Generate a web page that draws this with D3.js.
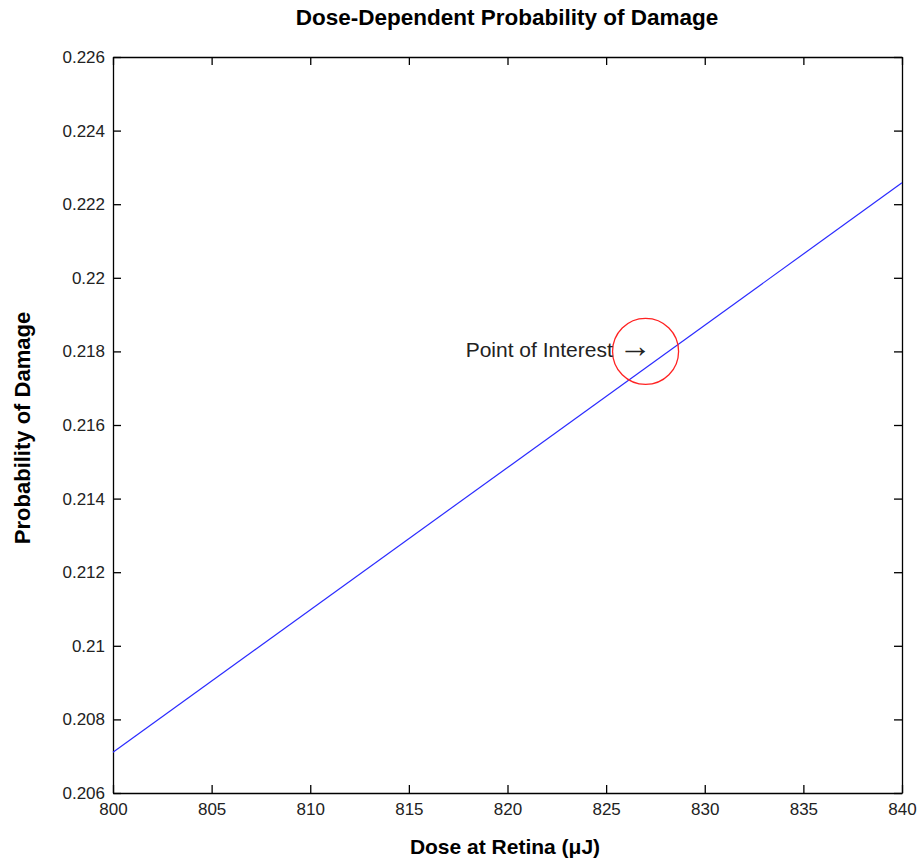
<!DOCTYPE html>
<html>
  <head>
    <meta charset="utf-8">
    <title>Dose-Dependent Probability of Damage</title>
    <style>
      body { margin: 0; background: #fff; }
      text { font-family: "Liberation Sans", Arial, sans-serif; }
    </style>
  </head>
  <body>
    <svg width="921" height="862"></svg>

    <script src="https://d3js.org/d3.v7.min.js"></script>
    <script>

      // line end points
      var doses = [800, 840];
      var probs = [0.20711, 0.22258];

      var xTicks = [800, 805, 810, 815, 820, 825, 830, 835, 840];
      var yTicks = [0.206, 0.208, 0.21, 0.212, 0.214, 0.216, 0.218, 0.22, 0.222, 0.224, 0.226];

      var poi = { dose: 827, prob: 0.218, label: "Point of Interest " };

      var svg = d3.select("svg"),
        margin = { top: 57, right: 19, bottom: 69, left: 113 },
        width = +svg.attr("width"),
        height = +svg.attr("height");

      var x = d3.scaleLinear()
        .domain([800, 840])
        .range([margin.left, width - margin.right]);

      var y = d3.scaleLinear()
        .domain([0.206, 0.226])
        .range([height - margin.bottom, margin.top]);

      var tick = 8;

      // ticks on all four sides, pointing inwards
      svg.append("g")
        .attr("transform", "translate(0," + y.range()[0] + ")")
        .call(d3.axisBottom(x).tickValues(xTicks).tickSizeInner(-tick).tickSizeOuter(0).tickPadding(10))
        .call(styleAxis);

      svg.append("g")
        .attr("transform", "translate(0," + y.range()[1] + ")")
        .call(d3.axisTop(x).tickValues(xTicks).tickSizeInner(-tick).tickSizeOuter(0).tickFormat(""))
        .call(styleAxis);

      svg.append("g")
        .attr("transform", "translate(" + x.range()[0] + ",0)")
        .call(d3.axisLeft(y).tickValues(yTicks).tickSizeInner(-tick).tickSizeOuter(0).tickPadding(8)
          .tickFormat(function (d) { return d3.format("")(+d.toFixed(3)); }))
        .call(styleAxis);

      svg.append("g")
        .attr("transform", "translate(" + x.range()[1] + ",0)")
        .call(d3.axisRight(y).tickValues(yTicks).tickSizeInner(-tick).tickSizeOuter(0).tickFormat(""))
        .call(styleAxis);

      function styleAxis(g) {
        g.select(".domain").attr("stroke", "#000").attr("stroke-width", 1.3);
        g.selectAll(".tick line").attr("stroke", "#000").attr("stroke-width", 1.3);
        g.selectAll(".tick text")
          .attr("fill", "#222")
          .style("font-size", "17px")
          .style("font-family", "\"Liberation Sans\", Arial, sans-serif");
      }

      var line = d3.line()
        .x(function (d, i) { return x(doses[i]); })
        .y(function (d) { return y(d); });

      svg.append("path")
        .datum(probs)
        .attr("fill", "none")
        .attr("stroke", "#2a2aff")
        .attr("stroke-width", 1.2)
        .attr("d", line);

      svg.append("circle")
        .attr("cx", x(poi.dose))
        .attr("cy", y(poi.prob))
        .attr("r", 33)
        .attr("fill", "none")
        .attr("stroke", "#ff2222")
        .attr("stroke-width", 1.3);

      var label = svg.append("text")
        .attr("x", x(poi.dose) + 6)
        .attr("y", y(poi.prob) + 6)
        .attr("text-anchor", "end")
        .attr("fill", "#222")
        .style("font-size", "21px")
        .text(poi.label);

      label.append("tspan")
        .style("font-family", "\"Liberation Sans\", sans-serif")
        .style("font-size", "33px")
        .text("\u2192");

      svg.append("text")
        .attr("x", 507)
        .attr("y", 25)
        .attr("text-anchor", "middle")
        .style("font-size", "22.5px")
        .style("font-weight", "bold")
        .text("Dose-Dependent Probability of Damage");

      svg.append("text")
        .attr("x", 505)
        .attr("y", 854)
        .attr("text-anchor", "middle")
        .style("font-size", "21px")
        .style("font-weight", "bold")
        .text("Dose at Retina (\u03bcJ)");

      svg.append("text")
        .attr("transform", "translate(30,428) rotate(-90)")
        .attr("text-anchor", "middle")
        .style("font-size", "22px")
        .style("font-weight", "bold")
        .text("Probability of Damage");

    </script>
  </body>
</html>
